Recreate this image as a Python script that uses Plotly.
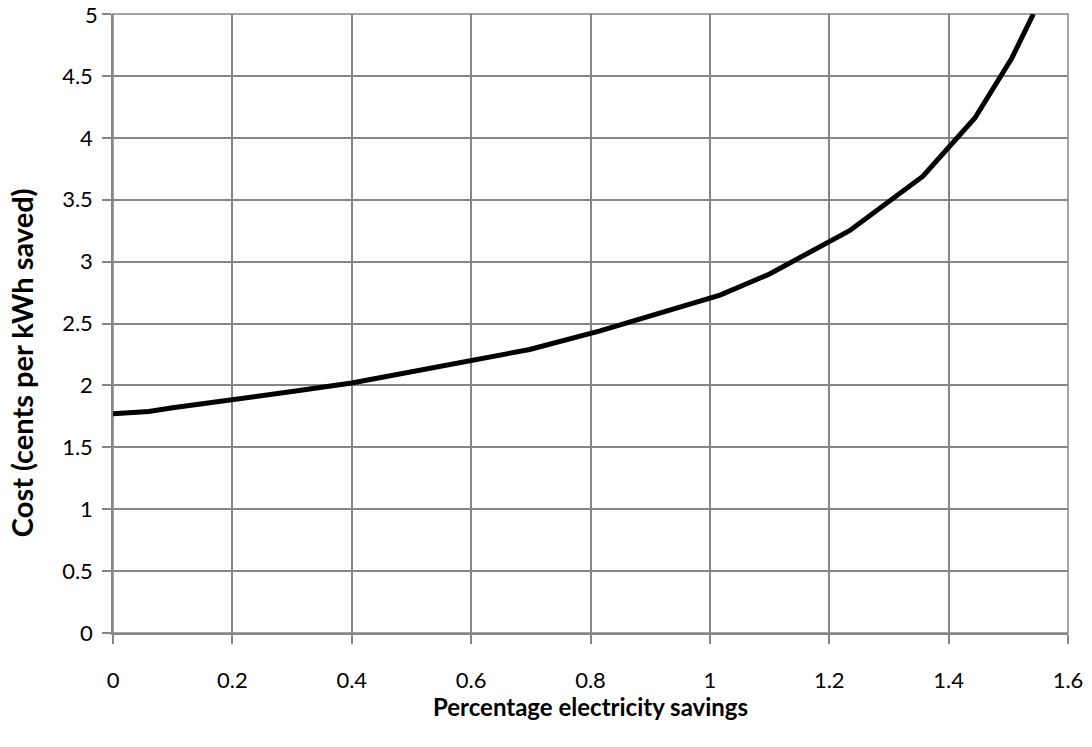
import plotly.graph_objects as go

savings = [0.0, 0.06, 0.1, 0.2, 0.3, 0.4, 0.5, 0.6, 0.698, 0.816, 0.9, 1.017, 1.10, 1.234, 1.357, 1.444, 1.506, 1.542]
cost = [1.77, 1.79, 1.82, 1.88, 1.95, 2.02, 2.11, 2.20, 2.29, 2.44, 2.56, 2.73, 2.90, 3.25, 3.69, 4.16, 4.645, 5.0]

x_ticks = [0, 0.2, 0.4, 0.6, 0.8, 1, 1.2, 1.4, 1.6]
x_labels = ["0", "0.2", "0.4", "0.6", "0.8", "1", "1.2", "1.4", "1.6"]
y_ticks = [0, 0.5, 1, 1.5, 2, 2.5, 3, 3.5, 4, 4.5, 5]
y_labels = ["0", "0.5", "1", "1.5", "2", "2.5", "3", "3.5", "4", "4.5", "5"]

x_title = "Percentage electricity savings"
y_title = "Cost (cents per kWh saved)"

font_family = "Lato, Open Sans, sans-serif"
grid = "#868686"

fig = go.Figure()
fig.add_trace(go.Scatter(x=savings, y=cost, mode="lines",
                         line=dict(color="black", width=5), showlegend=False))

axis_common = dict(showgrid=True, gridcolor=grid, gridwidth=1.5,
                   showline=True, linecolor=grid, linewidth=1.5,
                   ticks="outside", ticklen=9, tickcolor=grid, tickwidth=1.5,
                   zeroline=False, tickfont=dict(size=22), automargin=False)

# the top tick label sits at the very edge of the page; draw it as an annotation
y_text_axis = y_labels[:-1] + [""]

fig.update_layout(
    width=1092, height=747,
    margin=dict(l=113, r=24, t=14, b=114),
    paper_bgcolor="white", plot_bgcolor="white",
    font=dict(family=font_family, color="black", size=22),
    xaxis=dict(range=[0, 1.6], tickvals=x_ticks, ticktext=x_labels,
               ticklabelstandoff=18, **axis_common),
    yaxis=dict(range=[0, 5], tickvals=y_ticks, ticktext=y_text_axis,
               ticklabelstandoff=5, **axis_common),
)
fig.add_shape(type="rect", xref="paper", yref="paper", x0=0, y0=0, x1=1, y1=1,
              line=dict(color=grid, width=1.5), layer="below")
fig.add_annotation(text=y_labels[-1], xref="paper", yref="y",
                   x=-0.0147, y=y_ticks[-1], xanchor="right", yanchor="middle",
                   showarrow=False, font=dict(size=22), borderpad=0)
fig.add_annotation(text="<b>" + x_title + "</b>", xref="paper", yref="paper",
                   x=0.5, y=-0.1195, xanchor="center", yanchor="middle",
                   showarrow=False, font=dict(size=24))
fig.add_annotation(text="<b>" + y_title + "</b>", xref="paper", yref="paper",
                   x=-0.0963, y=0.436, xanchor="center", yanchor="middle",
                   textangle=-90, showarrow=False, font=dict(size=29))

fig.write_html("out.html", config={"displayModeBar": False},
               post_script="document.body.style.margin='0';")
